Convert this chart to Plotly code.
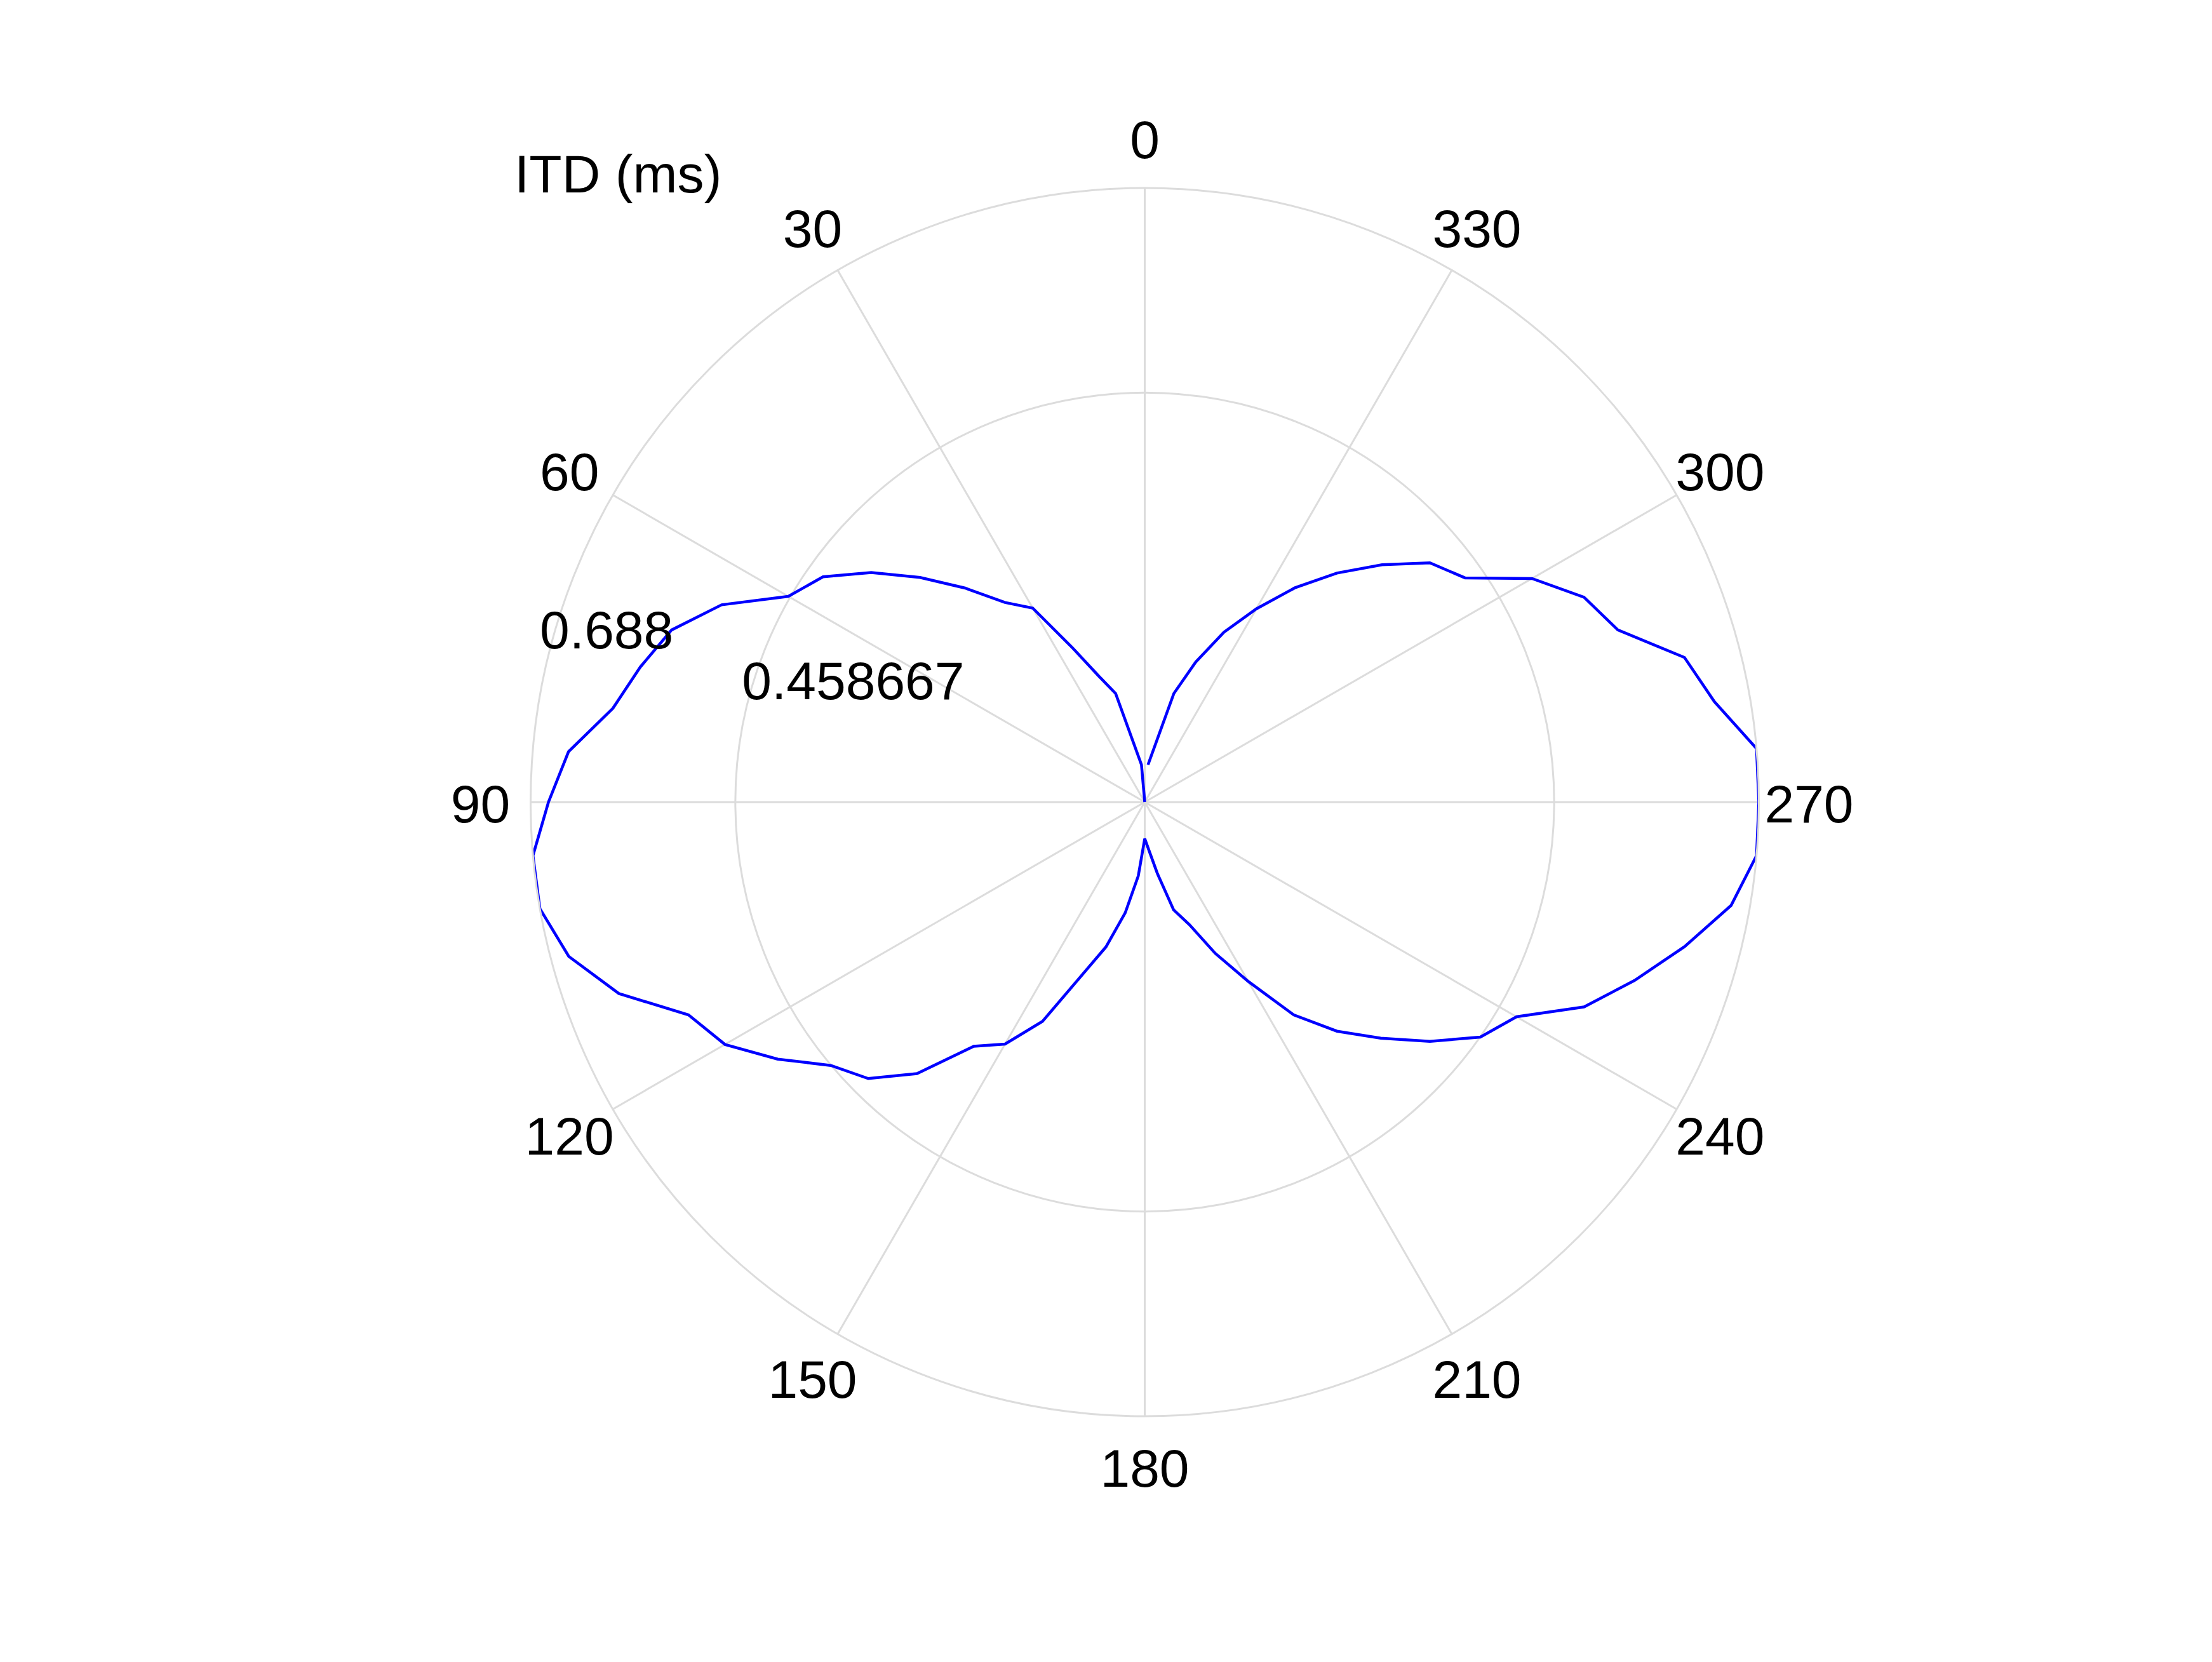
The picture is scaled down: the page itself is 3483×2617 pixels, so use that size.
import plotly.graph_objects as go

# ---- data (azimuth in degrees, ITD in ms) ----
azimuth = [0, 5, 15, 20, 25, 30, 35, 40, 45, 50, 55, 60, 65, 70, 75, 80, 85, 90,
           95, 100, 105, 110, 115, 120, 125, 130, 135, 140, 145, 150, 155, 165,
           170, 175, 180, 190, 195, 200, 205, 210, 215, 220, 225, 230, 235, 240,
           245, 250, 255, 260, 265, 270, 275, 280, 285, 290, 295, 300, 305, 310,
           315, 320, 325, 330, 335, 340, 345, 355]
itd_ms = [0.0, 0.042, 0.126, 0.150, 0.190, 0.251, 0.273, 0.313, 0.356, 0.400,
          0.440, 0.461, 0.523, 0.564, 0.585, 0.605, 0.648, 0.668,
          0.688, 0.688, 0.668, 0.627, 0.564, 0.543, 0.502, 0.459, 0.438, 0.397,
          0.334, 0.313, 0.271, 0.168,
          0.126, 0.083, 0.041, 0.081, 0.125, 0.146, 0.187, 0.232, 0.291, 0.335,
          0.374, 0.417, 0.459, 0.481,
          0.543, 0.584, 0.626, 0.667, 0.688, 0.688, 0.688, 0.648, 0.626, 0.564,
          0.543, 0.501, 0.438, 0.417,
          0.376, 0.335, 0.293, 0.250, 0.210, 0.167, 0.126, 0.042]

r_max = 0.688
r_ticks = [0.458667, 0.688]
r_tick_labels = ["0.458667", "0.688"]
r_label_theta = [67.1, 72.1]
r_label_r = [0.3546, 0.6335]

angle_ticks = [0, 30, 60, 90, 120, 150, 180, 210, 240, 270, 300, 330]
angle_labels = [str(a) for a in angle_ticks]
angle_label_r = 0.7442
label_axis_max = 0.80   # range of the transparent overlay axis carrying the labels

title_text = "ITD (ms)"

# page body has an 8px default margin
PAD = 8
W, H = 3483 - 2 * PAD, 2617 - 2 * PAD
cx, cy, R = 1802.5 - PAD, 1263.0 - PAD, 967.0
TEXT_DROP = 11          # labels sit slightly below their geometric anchor
R2 = R * label_axis_max / r_max
FONT = "Liberation Sans, Arial, Helvetica, sans-serif"
FS = 84
GRID = "#dcdcdc"


def dom(rad, dy=0.0):
    c_y = cy + dy
    return dict(x=[(cx - rad) / W, (cx + rad) / W],
                y=[(H - c_y - rad) / H, (H - c_y + rad) / H])


fig = go.Figure()

fig.add_trace(go.Scatterpolar(
    r=itd_ms, theta=azimuth, mode="lines",
    line=dict(color="#0000ff", width=4.5),
    hoverinfo="skip", showlegend=False, subplot="polar",
))

fig.add_trace(go.Scatterpolar(
    r=r_label_r, theta=r_label_theta, mode="text",
    text=r_tick_labels, textposition="middle center",
    textfont=dict(family=FONT, size=FS, color="#000000"),
    cliponaxis=False, hoverinfo="skip", showlegend=False, subplot="polar2",
))

fig.add_trace(go.Scatterpolar(
    r=[angle_label_r] * len(angle_ticks), theta=angle_ticks, mode="text",
    text=angle_labels, textposition="middle center",
    textfont=dict(family=FONT, size=FS, color="#000000"),
    cliponaxis=False, hoverinfo="skip", showlegend=False, subplot="polar2",
))

fig.update_layout(
    width=W, height=H,
    margin=dict(l=0, r=0, t=0, b=0),
    paper_bgcolor="white",
    showlegend=False,
    polar=dict(
        domain=dom(R),
        bgcolor="white",
        radialaxis=dict(
            range=[0, r_max], tickvals=r_ticks, showticklabels=False,
            ticks="", showline=False, showgrid=True,
            gridcolor=GRID, gridwidth=3,
        ),
        angularaxis=dict(
            rotation=90, direction="counterclockwise",
            tickmode="array", tickvals=angle_ticks, showticklabels=False,
            ticks="", showline=True, linecolor=GRID, linewidth=3,
            showgrid=True, gridcolor=GRID, gridwidth=3,
        ),
    ),
    polar2=dict(
        domain=dom(R2, TEXT_DROP),
        bgcolor="rgba(0,0,0,0)",
        radialaxis=dict(range=[0, label_axis_max], showticklabels=False,
                        ticks="", showline=False, showgrid=False),
        angularaxis=dict(rotation=90, direction="counterclockwise",
                         showticklabels=False, ticks="", showline=False,
                         showgrid=False),
    ),
    annotations=[dict(
        text=title_text, xref="paper", yref="paper",
        x=(973.6 - PAD) / W, y=1 - (274.0 - PAD) / H,
        xanchor="center", yanchor="middle",
        showarrow=False, font=dict(family=FONT, size=FS, color="#000000"),
    )],
)

fig.write_html("out.html")
